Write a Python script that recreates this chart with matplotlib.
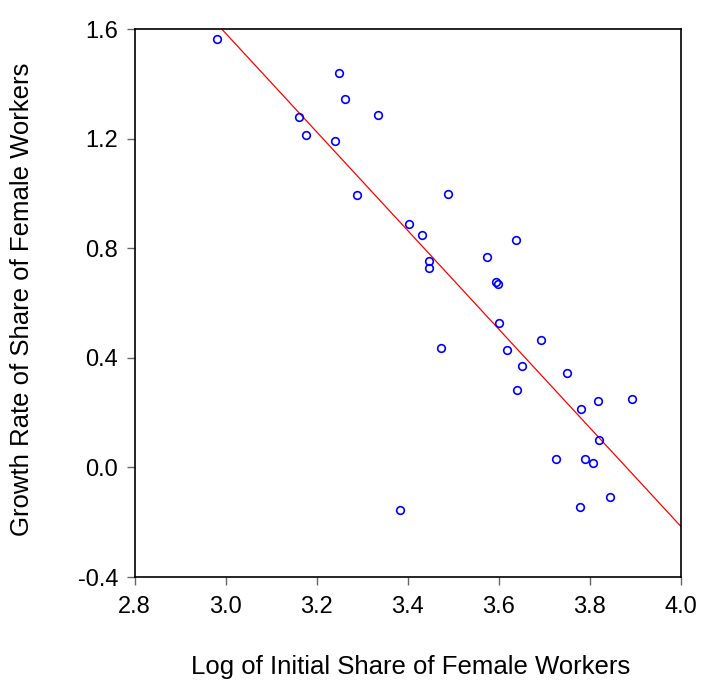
import numpy as np
import matplotlib.pyplot as plt

plt.rcParams['font.family'] = ['Liberation Sans', 'DejaVu Sans']
plt.rcParams['axes.unicode_minus'] = False

# log of initial share of female workers
log_share = [2.981, 3.248, 3.263, 3.335, 3.160, 3.176, 3.240, 3.289, 3.403,
             3.489, 3.432, 3.637, 3.574, 3.446, 3.446, 3.594, 3.599, 3.601,
             3.693, 3.473, 3.619, 3.651, 3.751, 3.640, 3.818, 3.893, 3.781,
             3.820, 3.726, 3.790, 3.808, 3.844, 3.779, 3.382]
# growth rate of share of female workers
growth = [1.564, 1.439, 1.346, 1.286, 1.278, 1.212, 1.191, 0.995, 0.889,
          0.998, 0.847, 0.829, 0.767, 0.753, 0.728, 0.678, 0.668, 0.526,
          0.466, 0.437, 0.430, 0.369, 0.346, 0.281, 0.243, 0.249, 0.212,
          0.100, 0.030, 0.031, 0.017, -0.107, -0.143, -0.154]

x = np.array(log_share)
y = np.array(growth)
b, a = np.polyfit(x, y, 1)

fig = plt.figure(figsize=(7.01, 6.81), dpi=100)
ax = fig.add_axes([0.1922, 0.1527, 0.7788, 0.8047])

xx = np.array([2.8, 4.0])
ax.plot(xx, a + b*xx, color='red', lw=0.9)
ax.plot(x, y, 'o', mfc='none', mec='blue', ms=5.5, mew=1.2)

ax.set_xlim(2.8, 4.0)
ax.set_ylim(-0.4, 1.6)
ax.set_xticks([2.8, 3.0, 3.2, 3.4, 3.6, 3.8, 4.0])
ax.set_yticks([-0.4, 0.0, 0.4, 0.8, 1.2, 1.6])
ax.set_xticklabels(['2.8', '3.0', '3.2', '3.4', '3.6', '3.8', '4.0'])
ax.set_yticklabels(['-0.4', '0.0', '0.4', '0.8', '1.2', '1.6'])
ax.tick_params(labelsize=17, length=6, width=1, color='#666666', top=False, right=False)
ax.tick_params(axis='x', pad=8)
ax.tick_params(axis='y', pad=6)

for s in ax.spines.values():
    s.set_linewidth(1.2)

fig.text(0.586, 1 - 667/681, 'Log of Initial Share of Female Workers',
         fontsize=18.5, ha='center', va='center')
fig.text(22/701, 0.56, 'Growth Rate of Share of Female Workers',
         fontsize=18.5, ha='center', va='center', rotation=90)

fig.savefig('out.png', dpi=100)
